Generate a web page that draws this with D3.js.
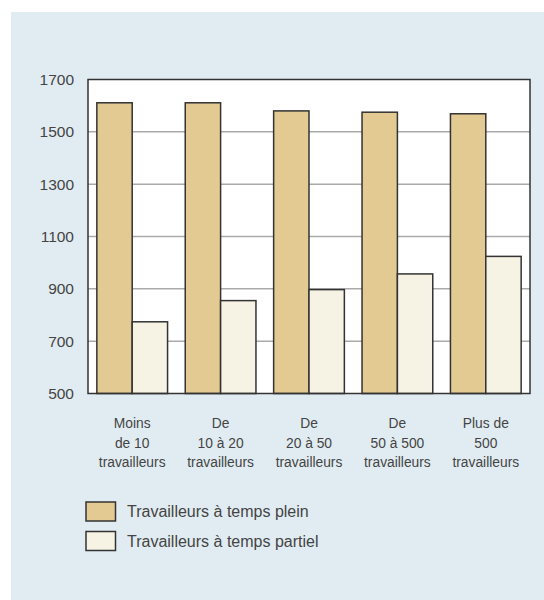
<!DOCTYPE html>
<html><head><meta charset="utf-8">
<script src="https://cdn.jsdelivr.net/npm/d3@7"></script>
<style>body{margin:0;background:#fff}svg{display:block}</style>
</head><body><svg id="c" width="544" height="600"></svg>
<script>
const categories = [
  ["Moins", "de 10", "travailleurs"],
  ["De", "10 à 20", "travailleurs"],
  ["De", "20 à 50", "travailleurs"],
  ["De", "50 à 500", "travailleurs"],
  ["Plus de", "500", "travailleurs"]
];
const seriesNames = ["Travailleurs à temps plein", "Travailleurs à temps partiel"];
const fullTime = [1611, 1611, 1580, 1575, 1569];
const partTime = [774, 855, 897, 957, 1024];
const yTicks = [500, 700, 900, 1100, 1300, 1500, 1700];
const colors = ["#e3c992", "#f6f2e4"];

const svg = d3.select("#c");
const font = "Liberation Sans, Arial, sans-serif";
svg.append("rect").attr("x", 11).attr("y", 12).attr("width", 533).attr("height", 588).attr("fill", "#e1ecf2");

const L = 88, R = 530, T = 79.5, B = 393.5;
const y = d3.scaleLinear().domain([500, 1700]).range([B, T]);
const x0 = d3.scaleBand().domain(d3.range(categories.length)).range([L, R]).paddingInner(0.2).paddingOuter(0.1);
const x1 = d3.scaleBand().domain([0, 1]).range([0, x0.bandwidth()]);

svg.append("rect").attr("x", L).attr("y", T).attr("width", R - L).attr("height", B - T).attr("fill", "#fff");

svg.append("g").selectAll("line").data(yTicks.slice(1, -1)).join("line")
  .attr("x1", L).attr("x2", R).attr("y1", d => y(d)).attr("y2", d => y(d))
  .attr("stroke", "#aaa").attr("stroke-width", 1.5);

const data = [fullTime, partTime];
const g = svg.append("g");
categories.forEach((c, i) => {
  data.forEach((s, k) => {
    g.append("rect")
      .attr("x", x0(i) + x1(k)).attr("y", y(s[i]))
      .attr("width", x1.bandwidth()).attr("height", B - y(s[i]))
      .attr("fill", colors[k]).attr("stroke", "#333").attr("stroke-width", 1.5);
  });
});

svg.append("rect").attr("x", L).attr("y", T).attr("width", R - L).attr("height", B - T)
  .attr("fill", "none").attr("stroke", "#333").attr("stroke-width", 1.5);

const yAxis = d3.axisLeft(y).tickValues(yTicks).tickSize(0).tickPadding(14).tickFormat(d3.format("d"));
const ya = svg.append("g").attr("transform", `translate(${L},0)`).call(yAxis);
ya.select(".domain").remove();
ya.selectAll("text").attr("font-family", font).attr("font-size", 15.5).attr("fill", "#444");

const xl = svg.append("g");
categories.forEach((c, i) => {
  const t = xl.append("text").attr("x", x0(i) + x0.bandwidth() / 2).attr("y", 428)
    .attr("text-anchor", "middle").attr("font-family", font).attr("font-size", 13.8).attr("fill", "#444");
  c.forEach((line, j) => t.append("tspan").attr("x", x0(i) + x0.bandwidth() / 2).attr("dy", j ? 19.7 : 0).text(line));
});

const lg = svg.append("g");
seriesNames.forEach((n, k) => {
  lg.append("rect").attr("x", 86).attr("y", 502 + k * 29.5).attr("width", 29.5).attr("height", 19)
    .attr("fill", colors[k]).attr("stroke", "#333").attr("stroke-width", 1.5);
  lg.append("text").attr("x", 127).attr("y", 517 + k * 29.5).attr("font-family", font)
    .attr("font-size", 16).attr("fill", "#444").text(n);
});
</script></body></html>
